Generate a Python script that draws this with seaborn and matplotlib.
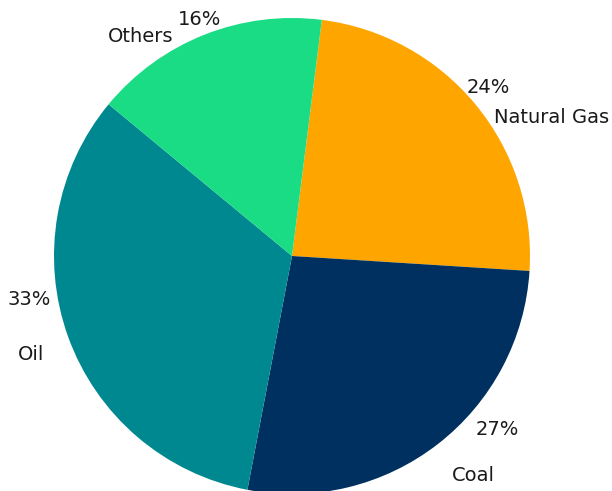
import numpy as np
import matplotlib
matplotlib.use("Agg")
import matplotlib.pyplot as plt
import seaborn as sns

sns.set_theme(style="white")
plt.rcParams['font.family'] = ['DejaVu Sans']

categories = ["Natural Gas", "Coal", "Oil", "Others"]
shares = [24, 27, 33, 16]
colors = ["#FFA500", "#00305F", "#008890", "#1ADC85"]

# text placement (polar: radius, angle in degrees) - layout only
pct_pos = [(1.088, 40.7), (1.13, -40.3), (1.12, 189.5), (1.065, 111.3)]
lab_pos = [(1.03, 34.5), (1.14, -53.9), (1.12, 201.8), (1.05, 118.4)]

W, H = 612, 491
fig = plt.figure(figsize=(W / 100, H / 100), dpi=100)
cx, cy, R = 292, 256, 238
ax = fig.add_axes([(cx - R) / W, (H - cy - R) / H, 2 * R / W, 2 * R / H])

wedges, texts, autotexts = ax.pie(
    shares, labels=categories, colors=colors, autopct="%1.0f%%",
    startangle=82.8, counterclock=False, radius=1.0,
    wedgeprops={"linewidth": 0},
    textprops={"fontsize": 14, "color": "#1a1a1a"},
)
ax.set_xlim(-1, 1)
ax.set_ylim(-1, 1)
ax.set_aspect("equal")
ax.axis("off")

for t, (r, a) in zip(autotexts, pct_pos):
    th = np.deg2rad(a)
    t.set_position((r * np.cos(th), r * np.sin(th)))
    t.set_ha("center")
for t, (r, a) in zip(texts, lab_pos):
    th = np.deg2rad(a)
    x, y = r * np.cos(th), r * np.sin(th)
    t.set_position((x, y))
    t.set_ha("left" if x > 0 else "right")
    t.set_va("center")

fig.savefig("out.png", dpi=100)
